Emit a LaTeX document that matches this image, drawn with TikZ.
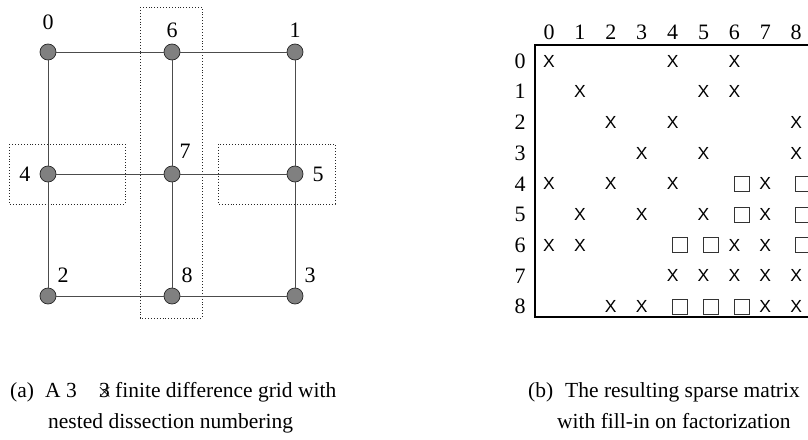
\documentclass[tikz,border=0pt]{standalone}
\usepackage{fontspec}
\setmainfont{Liberation Serif}
\newfontfamily\xfont{Liberation Sans}
\begin{document}
\begin{tikzpicture}[x=1pt,y=-1pt,
  gnode/.style={circle,draw=black!85,fill=black!50,line width=0.7pt,minimum size=16pt,inner sep=0pt},
  gedge/.style={draw=black!70,line width=1pt},
  sepbox/.style={draw=black!85,dotted,line width=0.9pt},
  glabel/.style={inner sep=0pt,font=\fontsize{22}{26}\selectfont},
  mlabel/.style={inner sep=0pt,font=\fontsize{22}{26}\selectfont},
  xmark/.style={inner sep=0pt,font=\xfont\fontsize{17.5}{21}\selectfont},
  fillsq/.style={draw=black!80,line width=0.8pt,minimum size=15pt,inner sep=0pt},
  captxt/.style={inner sep=0pt,anchor=base west,font=\fontsize{21.5}{26}\selectfont}]
\useasboundingbox (0,0) rectangle (808,439);
% separator boxes
\draw[sepbox] (140,7) rectangle (202,318);
\draw[sepbox] (9,144) rectangle (125,204);
\draw[sepbox] (218,144) rectangle (335,204);
% grid nodes
\node[gnode] (n0) at (48,52) {};
\node[gnode] (n6) at (172,52) {};
\node[gnode] (n1) at (295,52) {};
\node[gnode] (n4) at (48,174) {};
\node[gnode] (n7) at (172,174) {};
\node[gnode] (n5) at (295,174) {};
\node[gnode] (n2) at (48,296) {};
\node[gnode] (n8) at (172,296) {};
\node[gnode] (n3) at (295,296) {};
% edges
\draw[gedge] (n0) -- (n6); \draw[gedge] (n6) -- (n1);
\draw[gedge] (n4) -- (n7); \draw[gedge] (n7) -- (n5);
\draw[gedge] (n2) -- (n8); \draw[gedge] (n8) -- (n3);
\draw[gedge] (n0) -- (n4); \draw[gedge] (n4) -- (n2);
\draw[gedge] (n6) -- (n7); \draw[gedge] (n7) -- (n8);
\draw[gedge] (n1) -- (n5); \draw[gedge] (n5) -- (n3);
% grid labels
\node[glabel] (l0) at (48,22) {0};
\node[glabel] (l6) at (172,30) {6};
\node[glabel] (l1) at (295,30) {1};
\node[glabel] (l7) at (185,151) {7};
\node[glabel] (l4) at (25,174) {4};
\node[glabel] (l5) at (318,174) {5};
\node[glabel] (l2) at (63,275) {2};
\node[glabel] (l8) at (187,275) {8};
\node[glabel] (l3) at (310,275) {3};
% matrix frame
\draw[line width=1.4pt] (808,45) -- (535,45) -- (535,317) -- (808,317);
% headers
\foreach \j in {0,...,8} {
  \node[mlabel] (c\j) at ({549+30.9*\j},32) {\j};
  \node[mlabel] (r\j) at (520,{61+30.7*\j}) {\j};
}
% entries
\foreach \i/\cols in {0/{0,4,6},1/{1,5,6},2/{2,4,8},3/{3,5,8},4/{0,2,4,7},5/{1,3,5,7},6/{0,1,6,7},7/{4,5,6,7,8},8/{2,3,7,8}} {
  \foreach \j in \cols {
    \node[xmark] (x\i\j) at ({549+30.9*\j},{61+30.7*\i}) {X};
  }
}
\foreach \i/\cols in {4/{6,8},5/{6,8},6/{4,5,8},8/{4,5,6}} {
  \foreach \j in \cols {
    \node[fillsq] (s\i\j) at ({556+30.9*\j},{61+30.7*\i}) {};
  }
}
% captions
\node[captxt] (ca1) at (10,397) {(a)};
\node[captxt] (ca2) at (45,397) {A 3};
\node[captxt] (ca3) at (99,397) {\ooalign{3\cr\hidewidth$\times$\hidewidth\cr}};
\node[captxt] (ca4) at (115,397) {finite difference grid with};
\node[captxt] (ca5) at (48,428) {nested dissection numbering};
\node[captxt] (cb1) at (528,397) {(b)};
\node[captxt] (cb2) at (565,397) {The resulting sparse matrix};
\node[captxt] (cb3) at (557,428) {with fill-in on factorization};
\end{tikzpicture}
\end{document}
